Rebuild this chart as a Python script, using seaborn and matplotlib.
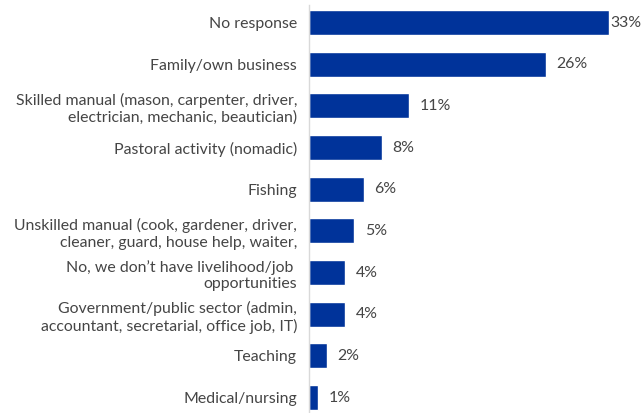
import matplotlib
matplotlib.use("Agg")
import matplotlib.pyplot as plt
import seaborn as sns
import pandas as pd

categories = [
    "No response",
    "Family/own business",
    "Skilled manual (mason, carpenter, driver,\nelectrician, mechanic, beautician)",
    "Pastoral activity (nomadic)",
    "Fishing",
    "Unskilled manual (cook, gardener, driver,\ncleaner, guard, house help, waiter,",
    "No, we don\u2019t have livelihood/job \nopportunities",
    "Government/public sector (admin,\naccountant, secretarial, office job, IT)",
    "Teaching",
    "Medical/nursing",
]
values = [33, 26, 11, 8, 6, 5, 4, 4, 2, 1]

df = pd.DataFrame({"category": categories, "value": values})

sns.set_theme(style="white")
plt.rcParams["font.family"] = ["Lato", "DejaVu Sans"]

text_color = "#454545"
bar_color = "#00339A"

fig = plt.figure(figsize=(6.42, 4.13), dpi=100)
ax = fig.add_axes([309 / 642, 0.0, 1 - 309 / 642, 1.0])

sns.barplot(data=df, x="value", y="category", orient="h", color=bar_color,
            width=0.6, saturation=1, ax=ax)

ax.set_xlim(0, 36.6)
ax.set_ylim(9.37, -0.54)
ax.set_xlabel("")
ax.set_ylabel("")
ax.set_xticks([])
ax.tick_params(axis="y", length=0, pad=8.5, labelsize=11.4, labelcolor=text_color)
for lbl in ax.get_yticklabels():
    lbl.set_horizontalalignment("right")
    lbl.set_linespacing(1.25)

for s in ["top", "right", "bottom"]:
    ax.spines[s].set_visible(False)
ax.spines["left"].set_color("#d9d9d9")
ax.spines["left"].set_linewidth(1.0)
ax.spines["left"].set_bounds(9.37, -0.42)

for i, v in enumerate(values):
    ax.annotate(f"{v}%", xy=(v, i), xytext=(7.5 if v < 30 else 1.0, 0),
                textcoords="offset points", va="center", ha="left",
                fontsize=11.4, color=text_color)

fig.savefig("out.png", dpi=100)
